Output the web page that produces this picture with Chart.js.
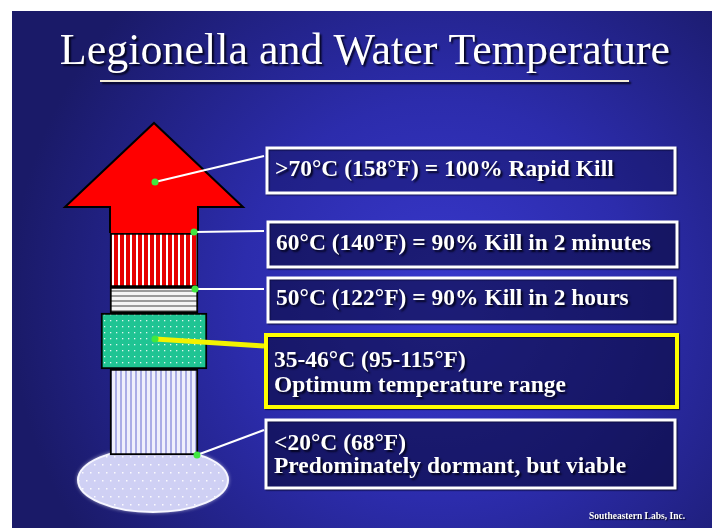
<!DOCTYPE html>
<html lang="en">
<head>
<meta charset="utf-8">
<title>Legionella and Water Temperature</title>
<script src="https://cdn.jsdelivr.net/npm/chart.js@4.4.1/dist/chart.umd.min.js"></script>
<style>
  html, body { margin: 0; padding: 0; background: #fff; }
  .wrap { position: relative; width: 716px; height: 529px; }
</style>
</head>
<body>
<div class="wrap"><canvas id="legionellaChart"></canvas></div>
<script>
const slideTitle = 'Legionella and Water Temperature';
const zoneLines = [
  ['>70°C (158°F) = 100% Rapid Kill'],
  ['60°C (140°F) = 90% Kill in 2 minutes'],
  ['50°C (122°F) = 90% Kill in 2 hours'],
  ['35-46°C (95-115°F)', 'Optimum temperature range'],
  ['<20°C (68°F)', 'Predominately dormant, but viable']
];
const creditText = 'Southeastern Labs, Inc.';

// column layers, top to bottom: 60°C, 50°C, 35-46°C, <20°C
const layerTop = [233, 287, 313, 369];
const layerBottom = [287, 313, 369, 455];
const columnX = 154;

// red arrow (>70°C) outline
const arrowX = [110, 110, 65, 154, 243, 198, 198];
const arrowY = [233, 207, 207, 123, 207, 207, 233];

// base ellipse
const baseX = 153;
const baseY = 480;

// leader lines from the column to the text boxes
const leaderFromX = [155, 194, 195, 155, 197];
const leaderFromY = [182, 232, 289, 339, 455];
const leaderToX = [264, 264, 264, 264, 264];
const leaderToY = [156, 231, 289, 346, 430];

function makePattern(w, h, paint) {
  const c = document.createElement('canvas');
  c.width = w;
  c.height = h;
  const g = c.getContext('2d');
  paint(g);
  return g.createPattern(c, 'repeat');
}

const redStripes = makePattern(6, 6, g => {
  g.fillStyle = '#ffffff';
  g.fillRect(0, 0, 6, 6);
  g.fillStyle = '#e60000';
  g.fillRect(0, 0, 4, 6);
});
const greyLines = makePattern(5, 5, g => {
  g.fillStyle = '#f4f4f4';
  g.fillRect(0, 0, 5, 5);
  g.fillStyle = '#9a9a9a';
  g.fillRect(0, 0, 5, 2);
});
const greenDots = makePattern(6, 6, g => {
  g.fillStyle = '#1fc493';
  g.fillRect(0, 0, 6, 6);
  g.fillStyle = 'rgba(255,255,255,0.85)';
  g.fillRect(2, 2, 1.3, 1.3);
});
const lavenderStripes = makePattern(5, 5, g => {
  g.fillStyle = '#eeeefc';
  g.fillRect(0, 0, 5, 5);
  g.fillStyle = '#a9abe6';
  g.fillRect(0, 0, 2, 5);
});

function makeBase(w, h) {
  const c = document.createElement('canvas');
  c.width = w + 10;
  c.height = h + 10;
  const g = c.getContext('2d');
  g.beginPath();
  g.ellipse(c.width / 2, c.height / 2, w / 2, h / 2, 0, 0, Math.PI * 2);
  g.fillStyle = '#cfd0f4';
  g.shadowColor = 'rgba(255,255,255,0.9)';
  g.shadowBlur = 4;
  g.fill();
  g.shadowBlur = 0;
  g.save();
  g.clip();
  g.fillStyle = 'rgba(255,255,255,0.9)';
  for (let y = 5, row = 0; y < c.height; y += 8, row++) {
    for (let x = 5 + (row % 2) * 4; x < c.width; x += 8) g.fillRect(x, y, 1.5, 1.5);
  }
  g.restore();
  g.lineWidth = 2;
  g.strokeStyle = '#f6f6ff';
  g.stroke();
  return c;
}

const layerFills = [redStripes, greyLines, greenDots, lavenderStripes];
const layerWidths = [88, 88, 106, 88];
const layerOrder = [5, 5, 3, 5];

const datasets = [];

leaderFromX.forEach((x, i) => {
  datasets.push({
    type: 'line',
    data: [{ x: x, y: leaderFromY[i] }, { x: leaderToX[i], y: leaderToY[i] }],
    borderColor: i === 3 ? '#f2f200' : '#ffffff',
    borderWidth: i === 3 ? 5 : 2,
    pointRadius: [3.5, 0],
    pointBackgroundColor: '#3fe83f',
    pointBorderWidth: 0,
    fill: false,
    order: 1
  });
});

layerTop.forEach((top, i) => {
  datasets.push({
    type: 'bar',
    data: [{ x: columnX, y: [top, layerBottom[i]] }],
    backgroundColor: layerFills[i],
    borderColor: '#000000',
    borderWidth: 2,
    borderSkipped: false,
    barThickness: layerWidths[i],
    stack: 'column',
    order: layerOrder[i]
  });
});

datasets.push({
  type: 'line',
  data: arrowX.map((x, i) => ({ x: x, y: arrowY[i] })),
  borderColor: '#000000',
  borderWidth: 2,
  borderJoinStyle: 'miter',
  backgroundColor: '#ff0000',
  fill: 'shape',
  tension: 0,
  pointRadius: 0,
  order: 4
});

datasets.push({
  type: 'scatter',
  data: [{ x: baseX, y: baseY }],
  pointStyle: makeBase(150, 64),
  pointRadius: 5,
  order: 9
});

const slideDecor = {
  id: 'slideDecor',
  beforeDraw(chart) {
    const ctx = chart.ctx;
    ctx.save();
    ctx.fillStyle = '#ffffff';
    ctx.fillRect(0, 0, chart.width, chart.height);
    const bg = ctx.createRadialGradient(440, 300, 10, 440, 300, 430);
    bg.addColorStop(0, '#3838cc');
    bg.addColorStop(0.45, '#2c2cac');
    bg.addColorStop(1, '#1a1a68');
    ctx.fillStyle = bg;
    ctx.fillRect(12, 11, 700, 517);

    ctx.font = '44px "Liberation Serif", "Times New Roman", serif';
    ctx.textAlign = 'center';
    ctx.textBaseline = 'alphabetic';
    ctx.shadowColor = 'rgba(0,0,20,0.9)';
    ctx.shadowOffsetX = 2;
    ctx.shadowOffsetY = 2;
    ctx.shadowBlur = 2;
    ctx.fillStyle = '#ffffff';
    ctx.fillText(slideTitle, 365, 64);

    ctx.strokeStyle = '#f3ecd8';
    ctx.lineWidth = 2;
    ctx.beginPath();
    ctx.moveTo(100, 81);
    ctx.lineTo(629, 81);
    ctx.stroke();
    ctx.restore();
  },
  afterDatasetsDraw(chart, args, opts) {
    const ctx = chart.ctx;
    ctx.save();
    opts.boxes.forEach((b, i) => {
      ctx.fillStyle = 'rgba(12,12,70,0.35)';
      ctx.fillRect(b.x, b.y, b.w, b.h);
      ctx.shadowColor = 'rgba(0,0,20,0.6)';
      ctx.shadowOffsetX = 1;
      ctx.shadowOffsetY = 1;
      ctx.shadowBlur = 1;
      ctx.strokeStyle = b.color;
      ctx.lineWidth = b.line;
      ctx.strokeRect(b.x, b.y, b.w, b.h);

      ctx.font = 'bold 23.5px "Liberation Serif", "Times New Roman", serif';
      ctx.textAlign = 'left';
      ctx.textBaseline = 'alphabetic';
      ctx.shadowColor = 'rgba(0,0,20,0.9)';
      ctx.shadowOffsetX = 2;
      ctx.shadowOffsetY = 2;
      ctx.shadowBlur = 2;
      ctx.fillStyle = '#ffffff';
      zoneLines[i].forEach((line, j) => {
        ctx.fillText(line, b.x + 8, b.y + b.base[j]);
      });
    });

    ctx.font = 'bold 9.5px "Liberation Serif", "Times New Roman", serif';
    ctx.textAlign = 'right';
    ctx.shadowOffsetX = 1;
    ctx.shadowOffsetY = 1;
    ctx.shadowBlur = 1;
    ctx.fillText(creditText, 685, 519);
    ctx.restore();
  }
};

new Chart(document.getElementById('legionellaChart'), {
  type: 'bar',
  data: { datasets: datasets },
  options: {
    responsive: true,
    maintainAspectRatio: false,
    animation: false,
    events: [],
    layout: { padding: 0, autoPadding: false },
    scales: {
      x: { type: 'linear', min: 0, max: 716, offset: false, display: false },
      y: { type: 'linear', min: 0, max: 529, reverse: true, stacked: false, display: false }
    },
    plugins: {
      legend: { display: false },
      tooltip: { enabled: false },
      slideDecor: {
        boxes: [
          { x: 267, y: 148, w: 408, h: 45, color: '#ffffff', line: 3, base: [28] },
          { x: 268, y: 222, w: 409, h: 45, color: '#ffffff', line: 3, base: [28] },
          { x: 268, y: 278, w: 407, h: 44, color: '#ffffff', line: 3, base: [27] },
          { x: 266, y: 335, w: 411, h: 72, color: '#ffff00', line: 4, base: [32, 57] },
          { x: 266, y: 420, w: 409, h: 68, color: '#ffffff', line: 3, base: [30, 53] }
        ]
      }
    }
  },
  plugins: [slideDecor]
});
</script>
</body>
</html>
